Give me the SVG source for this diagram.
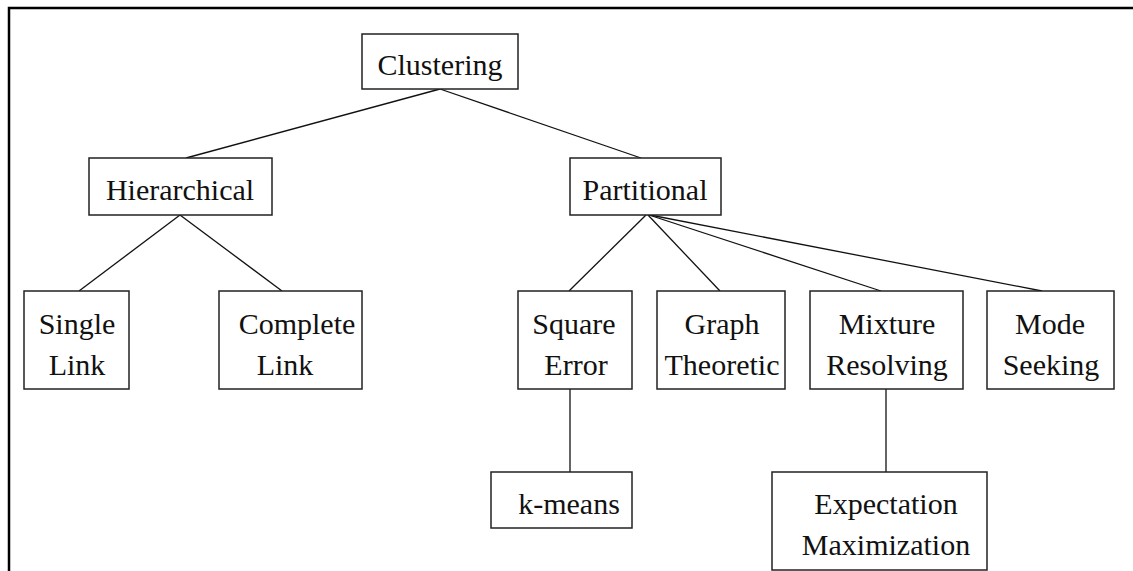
<svg xmlns="http://www.w3.org/2000/svg" width="1133" height="571" viewBox="0 0 1133 571">
<style>
.box{fill:#fff;stroke:#222;stroke-width:1.5}
.t{font-family:"Liberation Serif","Times New Roman",serif;font-size:30px;fill:#111;text-anchor:middle}
.c line{stroke:#111;stroke-width:1.3}
</style>
<rect x="0" y="0" width="1133" height="571" fill="#fff"/>
<path d="M9 571 V8 H1133" fill="none" stroke="#000" stroke-width="2.5"/>
<g class="c" id="connectors">
<line x1="440" y1="89" x2="186" y2="158"/>
<line x1="440" y1="89" x2="641" y2="158"/>
<line x1="180" y1="215" x2="79" y2="291"/>
<line x1="180" y1="215" x2="282" y2="291"/>
<line x1="646" y1="215" x2="569" y2="291"/>
<line x1="648" y1="215" x2="720" y2="291"/>
<line x1="649" y1="215" x2="881" y2="291"/>
<line x1="650" y1="215" x2="1042" y2="291"/>
<line x1="570" y1="389" x2="570" y2="472"/>
<line x1="886" y1="389" x2="886" y2="472"/>
</g>
<g id="clustering"><rect class="box" x="362" y="34" width="156" height="55"/><text class="t" x="440" y="75">Clustering</text></g>
<g id="hierarchical"><rect class="box" x="89" y="158" width="183" height="57"/><text class="t" x="180" y="200">Hierarchical</text></g>
<g id="partitional"><rect class="box" x="570" y="158" width="151" height="57"/><text class="t" x="645" y="200">Partitional</text></g>
<g id="single-link"><rect class="box" x="24" y="291" width="105" height="98"/><text class="t" x="77" y="334">Single</text><text class="t" x="77" y="375">Link</text></g>
<g id="complete-link"><rect class="box" x="219" y="291" width="143" height="98"/><text class="t" x="297" y="334">Complete</text><text class="t" x="285" y="375">Link</text></g>
<g id="square-error"><rect class="box" x="518" y="291" width="114" height="98"/><text class="t" x="574" y="334">Square</text><text class="t" x="576" y="375">Error</text></g>
<g id="graph-theoretic"><rect class="box" x="657" y="291" width="128" height="98"/><text class="t" x="722" y="334">Graph</text><text class="t" x="722" y="375">Theoretic</text></g>
<g id="mixture-resolving"><rect class="box" x="810" y="291" width="153" height="98"/><text class="t" x="887" y="334">Mixture</text><text class="t" x="887" y="375">Resolving</text></g>
<g id="mode-seeking"><rect class="box" x="987" y="291" width="127" height="98"/><text class="t" x="1050" y="334">Mode</text><text class="t" x="1051" y="375">Seeking</text></g>
<g id="k-means"><rect class="box" x="491" y="472" width="141" height="56"/><text class="t" x="569" y="514">k-means</text></g>
<g id="expectation-maximization"><rect class="box" x="772" y="472" width="215" height="98"/><text class="t" x="886" y="514">Expectation</text><text class="t" x="886" y="555">Maximization</text></g>
</svg>
